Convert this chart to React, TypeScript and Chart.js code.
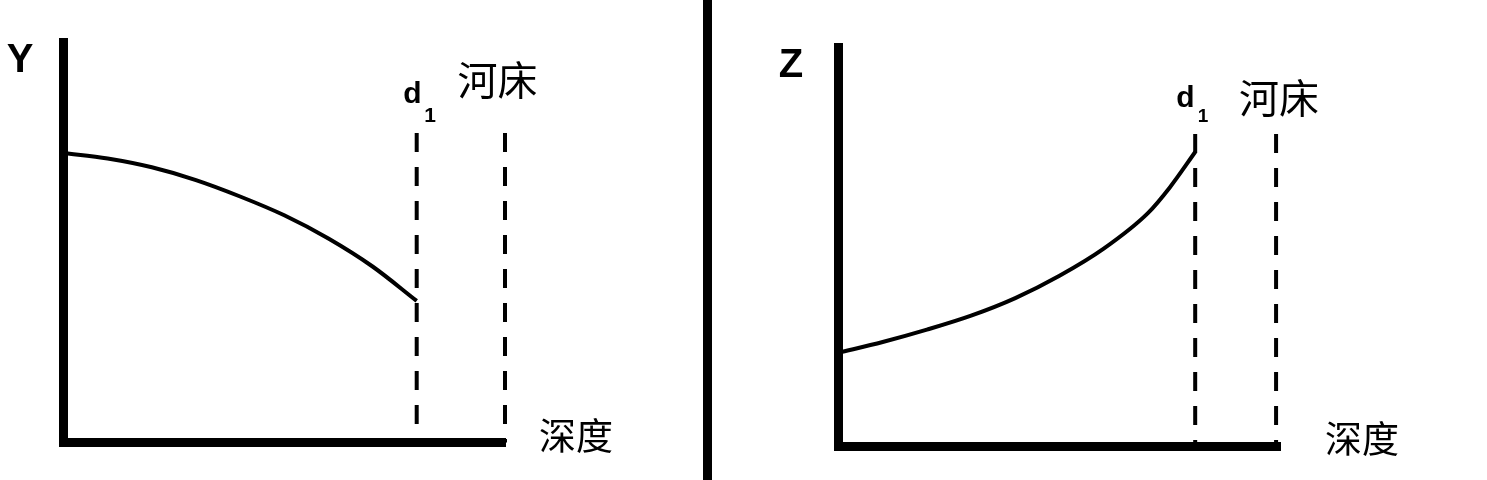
import { useEffect, useRef } from "react";
import { Chart, registerables } from "chart.js";

Chart.register(...registerables);

// ---- data ----
const yDepth = [0, 1, 2, 3, 4, 5, 6, 7, 8];
const yValues = [7.24, 7.1, 6.88, 6.56, 6.15, 5.68, 5.1, 4.4, 3.54];
const zDepth = [0, 1, 2, 3, 4, 5, 6, 7, 7.5, 8.07];
const zValues = [2.35, 2.62, 2.93, 3.28, 3.72, 4.28, 4.96, 5.85, 6.5, 7.38];
const yMarkers = [8, 10]; // d1, 河床
const zMarkers = [8.07, 9.9];
const yMarkerTop = 7.74;
const zMarkerTop = 7.83;
const axisRange = [0, 10];
const leftTitles = ["Y", "d", "1", "河床", "深度"];
const rightTitles = ["Z", "d", "1", "河床", "深度"];

type Label = {
  text: string;
  x: number;
  y: number;
  font: string;
  align: CanvasTextAlign;
  baseline: CanvasTextBaseline;
};

const LATIN = '"Liberation Sans", Arial, sans-serif';
const CJK = '"Noto Sans CJK SC", "Noto Sans", sans-serif';

function labelPlugin(labels: Label[]) {
  return {
    id: "textLabels",
    afterDraw(chart: any) {
      const ctx = chart.ctx as CanvasRenderingContext2D;
      ctx.save();
      ctx.fillStyle = "#000";
      for (const l of labels) {
        ctx.font = l.font;
        ctx.textAlign = l.align;
        ctx.textBaseline = l.baseline;
        ctx.fillText(l.text, l.x, l.y);
      }
      ctx.restore();
    },
  };
}

const CLIP = { left: 10, top: 10, right: 10, bottom: 3 };

function makeConfig(
  depth: number[],
  values: number[],
  markers: number[],
  markerTop: number,
  padding: { left: number; right: number; top: number; bottom: number },
  labels: Label[]
): any {
  const curve = depth.map((d, i) => ({ x: d, y: values[i] }));
  const dashSets = markers.map((m) => ({
    data: [
      { x: m, y: markerTop },
      { x: m, y: axisRange[0] },
    ],
    borderColor: "#000",
    borderWidth: 4,
    borderDash: [19, 15],
    pointRadius: 0,
    fill: false,
    clip: CLIP,
  }));
  return {
    type: "line",
    data: {
      datasets: [
        {
          data: curve,
          borderColor: "#000",
          borderWidth: 4,
          pointRadius: 0,
          cubicInterpolationMode: "monotone",
          fill: false,
          clip: CLIP,
        },
        ...dashSets,
      ],
    },
    options: {
      responsive: false,
      animation: false,
      devicePixelRatio: 1,
      layout: { padding },
      plugins: {
        legend: { display: false },
        tooltip: { enabled: false },
        title: { display: false },
      },
      events: [],
      scales: {
        x: {
          type: "linear",
          min: axisRange[0],
          max: axisRange[1],
          grid: { display: false, drawTicks: false },
          ticks: { display: false },
          border: { display: true, color: "#000", width: 9 },
        },
        y: {
          type: "linear",
          min: axisRange[0],
          max: axisRange[1],
          grid: { display: false, drawTicks: false },
          ticks: { display: false },
          border: { display: true, color: "#000", width: 9 },
        },
      },
    },
    plugins: [labelPlugin(labels)],
  };
}

function Panel(props: { config: any; width: number; left: number }) {
  const ref = useRef<HTMLCanvasElement | null>(null);
  useEffect(() => {
    if (!ref.current) return;
    const chart = new Chart(ref.current, props.config);
    return () => chart.destroy();
  }, []);
  return (
    <canvas
      ref={ref}
      width={props.width}
      height={480}
      style={{
        position: "absolute",
        left: props.left,
        top: 0,
        width: props.width,
        height: 480,
      }}
    />
  );
}

const leftLabels: Label[] = [
  { text: leftTitles[0], x: 20, y: 72, font: `bold 40px ${LATIN}`, align: "center", baseline: "alphabetic" },
  { text: leftTitles[1], x: 412.5, y: 103, font: `bold 30px ${LATIN}`, align: "center", baseline: "alphabetic" },
  { text: leftTitles[2], x: 430, y: 122, font: `bold 21px ${LATIN}`, align: "center", baseline: "alphabetic" },
  { text: leftTitles[3], x: 497.5, y: 79.5, font: `40px ${CJK}`, align: "center", baseline: "middle" },
  { text: leftTitles[4], x: 576, y: 436, font: `37px ${CJK}`, align: "center", baseline: "middle" },
];

const RX = 712;
const rightLabels: Label[] = [
  { text: rightTitles[0], x: 791 - RX, y: 77, font: `bold 40px ${LATIN}`, align: "center", baseline: "alphabetic" },
  { text: rightTitles[1], x: 1185.5 - RX, y: 107, font: `bold 30px ${LATIN}`, align: "center", baseline: "alphabetic" },
  { text: rightTitles[2], x: 1203 - RX, y: 122, font: `bold 19px ${LATIN}`, align: "center", baseline: "alphabetic" },
  { text: rightTitles[3], x: 1279 - RX, y: 97.5, font: `40px ${CJK}`, align: "center", baseline: "middle" },
  { text: rightTitles[4], x: 1362 - RX, y: 438.5, font: `37px ${CJK}`, align: "center", baseline: "middle" },
];

const leftConfig = makeConfig(
  yDepth,
  yValues,
  yMarkers,
  yMarkerTop,
  { left: 63.5, right: 703 - 505, top: 42.5, bottom: 480 - 442.5 },
  leftLabels
);

const rightConfig = makeConfig(
  zDepth,
  zValues,
  zMarkers,
  zMarkerTop,
  { left: 838.5 - RX, right: 775 - (1280.5 - RX), top: 47.5, bottom: 480 - 446.5 },
  rightLabels
);

export default function App() {
  return (
    <div
      style={{
        position: "fixed",
        left: 0,
        top: 0,
        width: 1487,
        height: 480,
        background: "#fff",
        overflow: "hidden",
      }}
    >
      <Panel config={leftConfig} width={703} left={0} />
      <div
        style={{
          position: "absolute",
          left: 703,
          top: 0,
          width: 9,
          height: 480,
          background: "#000",
        }}
      />
      <Panel config={rightConfig} width={775} left={RX} />
    </div>
  );
}
